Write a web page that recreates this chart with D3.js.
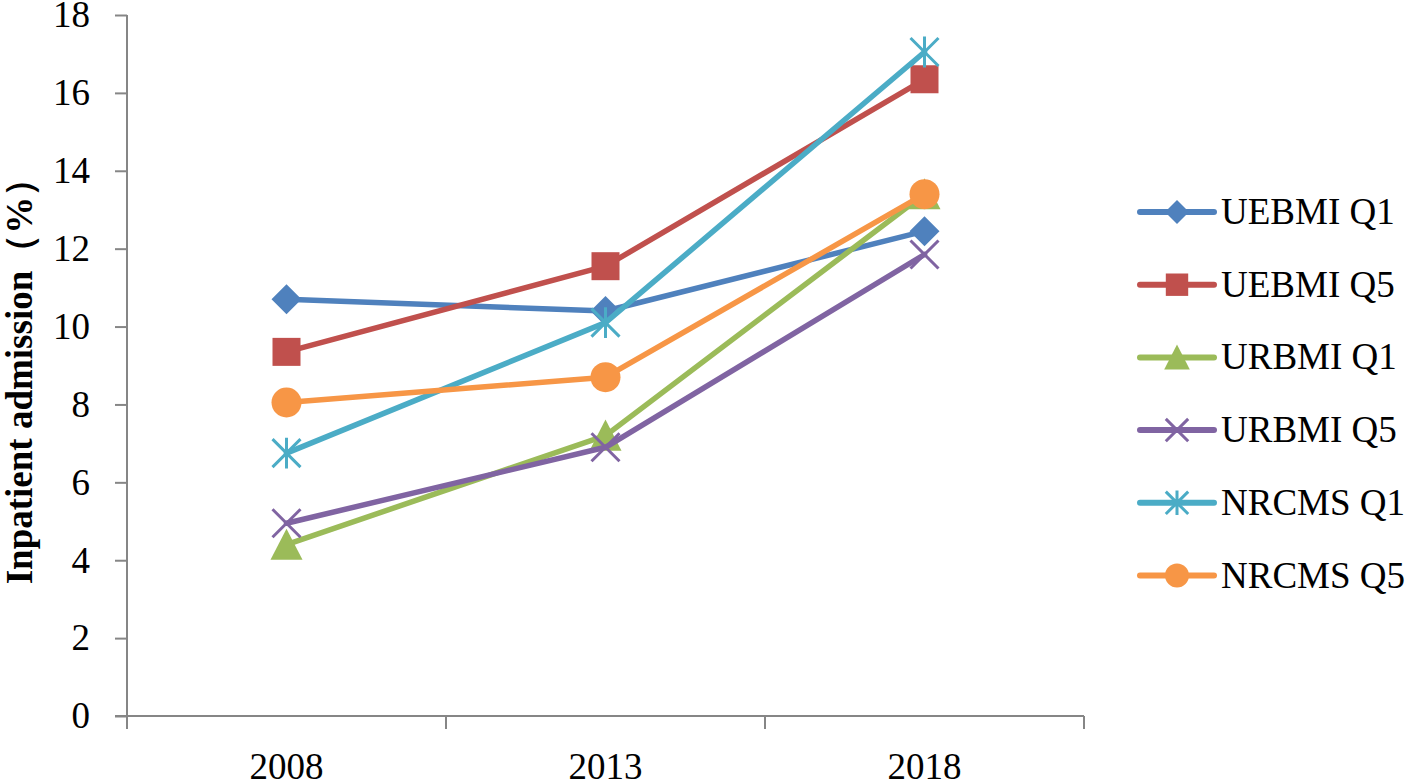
<!DOCTYPE html>
<html><head><meta charset="utf-8">
<script src="https://cdn.jsdelivr.net/npm/d3@7"></script>
<style>
html,body{margin:0;padding:0;background:#fff;}
svg{display:block;}
text{font-family:"Liberation Serif","Times New Roman",serif;fill:#000;}
</style></head>
<body><svg id="c" width="1416" height="783"></svg>
<script>
const years = ["2008","2013","2018"];
const seriesNames = ["UEBMI Q1","UEBMI Q5","URBMI Q1","URBMI Q5","NRCMS Q1","NRCMS Q5"];
const uebmiQ1 = [10.7, 10.4, 12.45];
const uebmiQ5 = [9.35, 11.55, 16.35];
const urbmiQ1 = [4.4, 7.2, 13.4];
const urbmiQ5 = [4.95, 6.9, 11.85];
const nrcmsQ1 = [6.75, 10.1, 17.05];
const nrcmsQ5 = [8.05, 8.7, 13.4];
const yTicks = [0,2,4,6,8,10,12,14,16,18];
const colors = ["#4F81BD","#C0504D","#9BBB59","#8064A2","#4BACC6","#F79646"];
const markers = ["diamond","square","triangle","x","star","circle"];
const allValues = [uebmiQ1,uebmiQ5,urbmiQ1,urbmiQ5,nrcmsQ1,nrcmsQ5];

const svg = d3.select("#c");
const x = d3.scaleBand().domain(years).range([127,1084]).padding(0);
const y = d3.scaleLinear().domain([0,18]).range([716,15]);
const cx = d => x(d) + x.bandwidth()/2;
const axisColor = "#868686";

// y axis
const ya = svg.append("g").attr("transform","translate(127,0)")
  .call(d3.axisLeft(y).tickValues(yTicks).tickSize(12).tickPadding(25).tickFormat(d3.format("d")));
ya.select(".domain").attr("stroke",axisColor).attr("stroke-width",2).attr("d","M0,15V716");
ya.selectAll(".tick line").attr("stroke",axisColor).attr("stroke-width",2);
ya.selectAll(".tick text").attr("font-size",37).attr("font-family","Liberation Serif").attr("fill","#000");

// x axis
const xa = svg.append("g").attr("transform","translate(0,716)")
  .call(d3.axisBottom(x).tickSize(0).tickPadding(0));
xa.select(".domain").attr("stroke",axisColor).attr("stroke-width",2).attr("d","M115,0H1084");
xa.selectAll(".tick text").attr("font-size",37).attr("font-family","Liberation Serif").attr("fill","#000").attr("y",63).attr("dy",0);
const bounds = years.map(d=>x(d)).concat([x.range()[1]]);
xa.selectAll("line.bt").data(bounds).enter().append("line").attr("class","bt")
  .attr("x1",d=>d).attr("x2",d=>d).attr("y1",0).attr("y2",13)
  .attr("stroke",axisColor).attr("stroke-width",2);

// y label
svg.append("text").attr("transform","translate(32,372) rotate(-90)")
  .attr("text-anchor","middle").attr("font-size",37).attr("font-weight","bold")
  .text("Inpatient admission（%）");

function drawMarker(g, type, color, px, py, s){
  s = s || 1;
  if(type==="diamond"){
    const r=15*s;
    g.append("path").attr("d",`M${px},${py-r}L${px+r},${py}L${px},${py+r}L${px-r},${py}Z`).attr("fill",color);
  } else if(type==="square"){
    const r=14*s;
    g.append("rect").attr("x",px-r).attr("y",py-r).attr("width",2*r).attr("height",2*r).attr("fill",color);
  } else if(type==="triangle"){
    const r=16*s;
    g.append("path").attr("d",`M${px},${py-r}L${px+r},${py+r*0.95}L${px-r},${py+r*0.95}Z`).attr("fill",color);
  } else if(type==="circle"){
    g.append("circle").attr("cx",px).attr("cy",py).attr("r",15*s).attr("fill",color);
  } else if(type==="x"){
    const r=14*s;
    g.append("path").attr("d",`M${px-r},${py-r}L${px+r},${py+r}M${px-r},${py+r}L${px+r},${py-r}`)
      .attr("stroke",color).attr("stroke-width",3).attr("fill","none");
  } else if(type==="star"){
    const r=14*s;
    g.append("path").attr("d",`M${px-r},${py-r}L${px+r},${py+r}M${px-r},${py+r}L${px+r},${py-r}M${px},${py-r*1.1}V${py+r*1.1}`)
      .attr("stroke",color).attr("stroke-width",3).attr("fill","none");
  }
}

const line = d3.line().x((d,i)=>cx(years[i])).y(d=>y(d));
allValues.forEach((vals,si)=>{
  const g = svg.append("g");
  g.append("path").datum(vals).attr("d",line).attr("fill","none")
    .attr("stroke",colors[si]).attr("stroke-width",5.5).attr("stroke-linejoin","round").attr("stroke-linecap","round");
  vals.forEach((v,i)=>drawMarker(g, markers[si], colors[si], cx(years[i]), y(v)));
});

// legend
const legY0 = 212, legStep = 72.7;
seriesNames.forEach((n,i)=>{
  const g = svg.append("g");
  const ly = legY0 + i*legStep;
  g.append("line").attr("x1",1140).attr("x2",1214).attr("y1",ly).attr("y2",ly)
    .attr("stroke",colors[i]).attr("stroke-width",6).attr("stroke-linecap","round");
  drawMarker(g, markers[i], colors[i], 1177, ly, 0.8);
  g.append("text").attr("x",1221).attr("y",ly+12).attr("font-size",37).text(n);
});
</script></body></html>
